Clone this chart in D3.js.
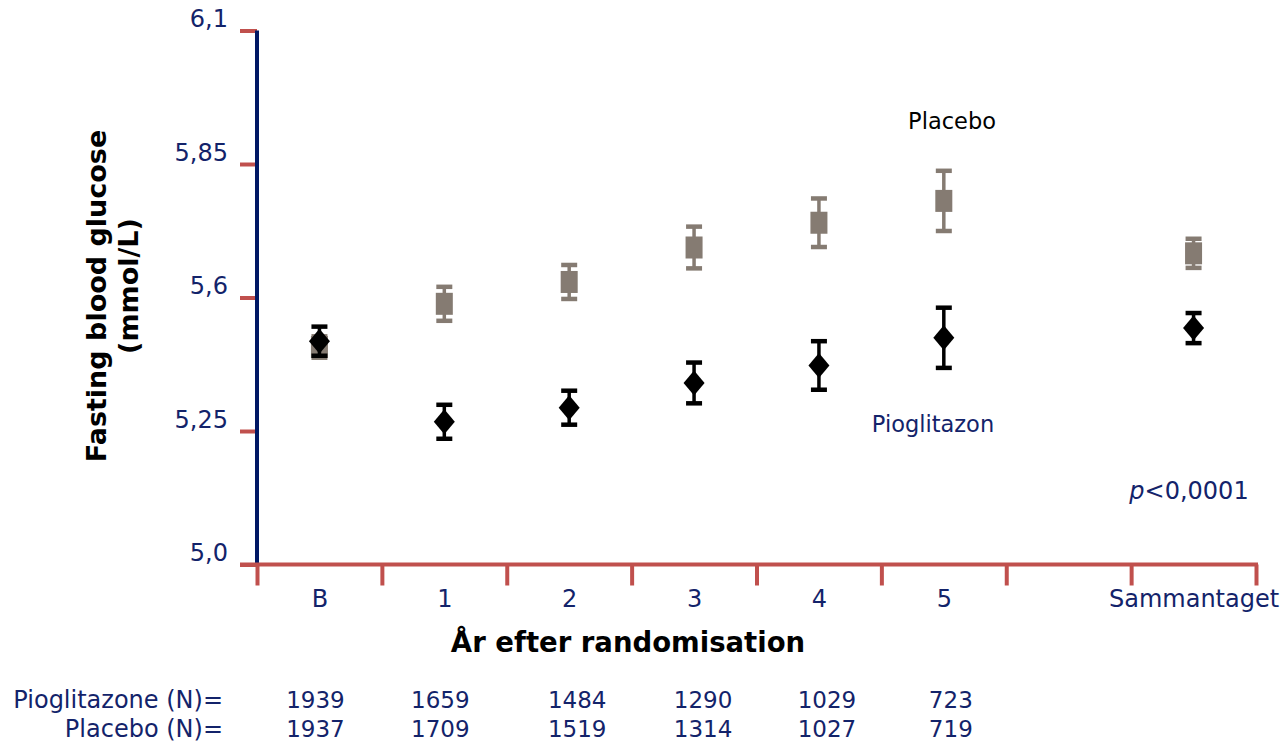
<!DOCTYPE html>
<html>
<head>
<meta charset="utf-8">
<script src="https://cdn.jsdelivr.net/npm/d3@7"></script>
<style>
  html, body { margin: 0; padding: 0; background: #ffffff; }
  svg { display: block; }
  text { font-family: "DejaVu Sans", Verdana, sans-serif; }
</style>
</head>
<body>
<svg id="chart" width="1286" height="743"></svg>
<script>
// ---- data ----
const categories = ["B", "1", "2", "3", "4", "5", "Sammantaget"];
const categorySlots = [0, 1, 2, 3, 4, 5, 7];      // slot 6 is left empty before the pooled result

const pioMean = [5.460, 5.294, 5.323, 5.374, 5.410, 5.467, 5.487];
const pioErr  = [0.030, 0.035, 0.035, 0.042, 0.050, 0.062, 0.031];
const plaMean = [5.448, 5.537, 5.582, 5.653, 5.704, 5.749, 5.641];
const plaErr  = [0.022, 0.035, 0.035, 0.043, 0.050, 0.062, 0.030];

const yTickLabels = ["5,0", "5,25", "5,6", "5,85", "6,1"];
const nPioglitazone = [1939, 1659, 1484, 1290, 1029, 723];
const nPlacebo      = [1937, 1709, 1519, 1314, 1027, 719];

// ---- colours ----
const RED = "#c0504d";
const NAVY_AXIS = "#001864";
const NAVY_TEXT = "#13236a";
const PLA_GREY = "#857b72";
const PIO_BLACK = "#000000";

// ---- scales ----
const svg = d3.select("#chart");
const plotLeft = 257, plotRight = 1256, plotTop = 30.5, plotBottom = 564.5;

const x = d3.scaleLinear().domain([0, 8]).range([plotLeft, plotRight]);
const y = d3.scaleLinear().domain([5.0, 6.1]).range([plotBottom, plotTop]);
const yTickValues = d3.range(yTickLabels.length).map(i => 5.0 + i * (6.1 - 5.0) / (yTickLabels.length - 1));
const cx = i => x(categorySlots[i] + 0.5);

// ---- y axis: red ticks, navy labels, navy spine ----
const yAxis = d3.axisLeft(y)
  .tickValues(yTickValues)
  .tickFormat((d, i) => yTickLabels[i])
  .tickSize(17)
  .tickPadding(12);

const gy = svg.append("g").attr("transform", `translate(${plotLeft},0)`).call(yAxis);
gy.select(".domain").remove();
gy.selectAll(".tick line").attr("stroke", RED).attr("stroke-width", 4);
gy.selectAll(".tick text")
  .attr("fill", NAVY_TEXT)
  .attr("font-size", 24)
  .attr("font-family", "DejaVu Sans, Verdana, sans-serif")
  .attr("dy", 0)
  .attr("y", -4);

svg.append("line")
  .attr("x1", plotLeft).attr("x2", plotLeft)
  .attr("y1", y(6.1)).attr("y2", y(5.0))
  .attr("stroke", NAVY_AXIS).attr("stroke-width", 4);

// ---- x axis: red baseline with slot boundary ticks ----
const xTicks = d3.axisBottom(x)
  .tickValues(d3.range(0, 9))
  .tickFormat("")
  .tickSize(21)
  .tickSizeOuter(0);
const gx = svg.append("g").attr("transform", `translate(0,${plotBottom})`).call(xTicks);
gx.select(".domain").remove();
gx.selectAll(".tick line").attr("stroke", RED).attr("stroke-width", 4);

svg.append("line")
  .attr("x1", plotLeft - 17).attr("x2", x(8) + 2)
  .attr("y1", plotBottom).attr("y2", plotBottom)
  .attr("stroke", RED).attr("stroke-width", 4);

// category labels under each slot
const xLabels = d3.axisBottom(x)
  .tickValues(categorySlots.map(s => s + 0.5))
  .tickFormat((d, i) => categories[i])
  .tickSize(0)
  .tickPadding(0);
const gxl = svg.append("g").attr("transform", `translate(0,${plotBottom})`).call(xLabels);
gxl.select(".domain").remove();
gxl.selectAll(".tick text")
  .attr("fill", NAVY_TEXT)
  .attr("font-size", 24)
  .attr("font-family", "DejaVu Sans, Verdana, sans-serif")
  .attr("dy", 0)
  .attr("y", 42);

// ---- axis titles ----
svg.append("text")
  .attr("x", 628).attr("y", 652)
  .attr("text-anchor", "middle")
  .attr("font-size", 27.5).attr("font-weight", "bold")
  .attr("fill", "#000")
  .text("År efter randomisation");

svg.append("text")
  .attr("transform", "translate(106,296) rotate(-90)")
  .attr("text-anchor", "middle")
  .attr("font-size", 27).attr("font-weight", "bold")
  .attr("fill", "#000")
  .text("Fasting blood glucose");
svg.append("text")
  .attr("transform", "translate(138,286) rotate(-90)")
  .attr("text-anchor", "middle")
  .attr("font-size", 27).attr("font-weight", "bold")
  .attr("fill", "#000")
  .text("(mmol/L)");

// ---- error bars + markers ----
function drawSeries(means, errs, color, marker) {
  const g = svg.append("g");
  const bars = g.selectAll("g.bar").data(means.map((m, i) => ({ m, e: errs[i], i })))
    .enter().append("g");
  bars.append("line")
    .attr("x1", d => cx(d.i)).attr("x2", d => cx(d.i))
    .attr("y1", d => y(d.m + d.e)).attr("y2", d => y(d.m - d.e))
    .attr("stroke", color).attr("stroke-width", 3.5);
  [1, -1].forEach(sign => {
    bars.append("line")
      .attr("x1", d => cx(d.i) - 8).attr("x2", d => cx(d.i) + 8)
      .attr("y1", d => y(d.m + sign * d.e)).attr("y2", d => y(d.m + sign * d.e))
      .attr("stroke", color).attr("stroke-width", 4.5);
  });
  if (marker === "square") {
    bars.append("rect")
      .attr("x", d => cx(d.i) - 8.5).attr("y", d => y(d.m) - 11)
      .attr("width", 17).attr("height", 22)
      .attr("fill", color);
  } else {
    bars.append("path")
      .attr("d", d => {
        const px = cx(d.i), py = y(d.m);
        return `M${px},${py - 12.5}L${px + 10.5},${py}L${px},${py + 12.5}L${px - 10.5},${py}Z`;
      })
      .attr("fill", color);
  }
}
drawSeries(plaMean, plaErr, PLA_GREY, "square");
drawSeries(pioMean, pioErr, PIO_BLACK, "diamond");

// ---- series labels and p-value ----
svg.append("text")
  .attr("x", 952).attr("y", 129)
  .attr("text-anchor", "middle")
  .attr("font-size", 22.5).attr("fill", "#000")
  .text("Placebo");

svg.append("text")
  .attr("x", 933).attr("y", 432)
  .attr("text-anchor", "middle")
  .attr("font-size", 22.5).attr("fill", NAVY_TEXT)
  .text("Pioglitazon");

const pText = svg.append("text")
  .attr("x", 1189).attr("y", 499)
  .attr("text-anchor", "middle")
  .attr("font-size", 24).attr("fill", NAVY_TEXT);
pText.append("tspan").attr("font-style", "italic").text("p");
pText.append("tspan").text("<0,0001");

// ---- patients at risk table ----
const tableRows = [
  { label: "Pioglitazone (N)=", values: nPioglitazone, y: 708 },
  { label: "Placebo (N)=", values: nPlacebo, y: 737 }
];
const columnNudge = [-4, -4, 8, 9, 8, 7];
tableRows.forEach(row => {
  svg.append("text")
    .attr("x", 223).attr("y", row.y)
    .attr("text-anchor", "end")
    .attr("font-size", 24).attr("fill", NAVY_TEXT)
    .text(row.label);
  svg.append("g").selectAll("text").data(row.values).enter().append("text")
    .attr("x", (d, i) => cx(i) + columnNudge[i])
    .attr("y", row.y)
    .attr("text-anchor", "middle")
    .attr("font-size", 23).attr("fill", NAVY_TEXT)
    .text(d => d);
});
</script>
</body>
</html>
